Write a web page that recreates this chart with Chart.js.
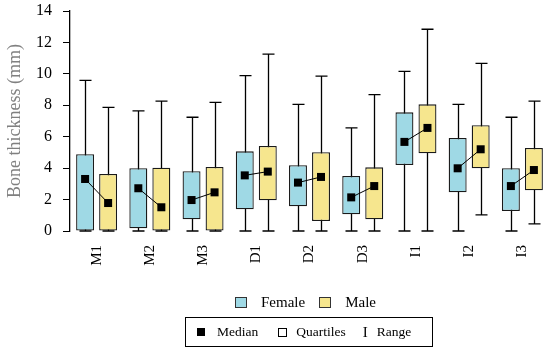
<!DOCTYPE html>
<html>
<head>
<meta charset="utf-8">
<script src="https://cdn.jsdelivr.net/npm/chart.js@4"></script>
<style>
  html, body { margin: 0; padding: 0; background: #fff; }
  #wrap { position: relative; width: 550px; height: 351px; }
  #legend {
    position: absolute; left: 235px; top: 292px; height: 20px;
    font: 15px "Liberation Serif", serif; color: #000;
    display: flex; align-items: center; white-space: nowrap;
  }
  #legend i { display: inline-block; width: 10px; height: 9px; border: 1px solid #333; margin-right: 14px; }
  #key {
    position: absolute; left: 185px; top: 317px; width: 235px; height: 28px;
    padding-left: 11px;
    border: 1px solid #000; box-sizing: content-box;
    font: 13.5px "Liberation Serif", serif; color: #000;
    display: flex; align-items: center; justify-content: flex-start;
    white-space: nowrap;
  }
  #key span { display: inline-flex; align-items: center; }
  .sq { display: inline-block; width: 8px; height: 8px; margin-right: 12px; }
  .med { background: #000; }
  .qrt { border: 1px solid #000; width: 7px; height: 7px; margin-right: 9px; }
  .rng { margin-right: 9px; font-size: 15px; font-weight: normal; }
</style>
</head>
<body>
<div id="wrap">
  <canvas id="chart" width="550" height="351"></canvas>
  <div id="legend"></div>
  <div id="key">
    <span><i class="sq med"></i>Median</span>
    <span style="margin-left:20px"><i class="sq qrt"></i>Quartiles</span>
    <span style="margin-left:17px"><b class="rng">I</b>Range</span>
  </div>
</div>
<script>
  var sites = ["M1", "M2", "M3", "D1", "D2", "D3", "I1", "I2", "I3"];

  // female
  var femaleMin = [0, 0, 0, 0, 0, 0, 0, 0, 0];
  var femaleQ1 = [0, 0.17, 0.74, 1.38, 1.57, 1.06, 4.2, 2.46, 1.27];
  var femaleMedian = [3.31, 2.72, 1.97, 3.54, 3.08, 2.14, 5.67, 3.99, 2.86];
  var femaleQ3 = [4.88, 3.99, 3.8, 5.07, 4.18, 3.5, 7.55, 5.92, 3.99];
  var femaleMax = [9.59, 7.64, 7.24, 9.89, 8.06, 6.56, 10.16, 8.06, 7.24];

  // male
  var maleMin = [0, 0, 0, 0, 0, 0, 0, 1.02, 0.45];
  var maleQ1 = [0, 0, 0, 1.95, 0.64, 0.74, 4.94, 3.99, 2.59];
  var maleMedian = [1.78, 1.51, 2.46, 3.78, 3.44, 2.86, 6.56, 5.2, 3.88];
  var maleQ3 = [3.63, 4.03, 4.07, 5.41, 5.01, 4.05, 8.06, 6.73, 5.28];
  var maleMax = [7.87, 8.27, 8.19, 11.25, 9.85, 8.68, 12.84, 10.67, 8.27];

  var yTicks = [0, 2, 4, 6, 8, 10, 12, 14];

  var serif = '"Liberation Serif", "Times New Roman", serif';
  var femaleColor = "#9fd9e5";
  var maleColor = "#f6e68e";

  function pairs(lo, hi) {
    return lo.map(function (v, i) { return [v, hi[i]]; });
  }

  var groups = [
    { min: femaleMin, med: femaleMedian, max: femaleMax },
    { min: maleMin, med: maleMedian, max: maleMax },
  ];

  // whiskers under the boxes, medians on top
  var boxPlotParts = {
    id: "boxPlotParts",
    beforeDatasetsDraw: function (chart) {
      var ctx = chart.ctx;
      var y = chart.scales.y;
      ctx.save();
      ctx.strokeStyle = "#000";
      ctx.lineWidth = 1.3;
      groups.forEach(function (g, di) {
        var bars = chart.getDatasetMeta(di).data;
        bars.forEach(function (bar, i) {
          var x = Math.round(bar.x) + 0.5;
          var top = y.getPixelForValue(g.max[i]);
          var bot = y.getPixelForValue(g.min[i]);
          ctx.beginPath();
          ctx.moveTo(x, top);
          ctx.lineTo(x, bot);
          ctx.moveTo(x - 6, top);
          ctx.lineTo(x + 6, top);
          ctx.moveTo(x - 6, bot);
          ctx.lineTo(x + 6, bot);
          ctx.stroke();
        });
      });
      ctx.restore();
    },
    afterDatasetsDraw: function (chart) {
      var ctx = chart.ctx;
      var y = chart.scales.y;
      var f = chart.getDatasetMeta(0).data;
      var m = chart.getDatasetMeta(1).data;
      ctx.save();
      ctx.strokeStyle = "#000";
      ctx.fillStyle = "#000";
      ctx.lineWidth = 1;
      for (var i = 0; i < sites.length; i++) {
        var x1 = f[i].x, y1 = y.getPixelForValue(femaleMedian[i]);
        var x2 = m[i].x, y2 = y.getPixelForValue(maleMedian[i]);
        ctx.beginPath();
        ctx.moveTo(x1, y1);
        ctx.lineTo(x2, y2);
        ctx.stroke();
        ctx.fillRect(x1 - 4, y1 - 4, 8, 8);
        ctx.fillRect(x2 - 4, y2 - 4, 8, 8);
      }
      ctx.restore();
    },
  };

  function noEdgePadding(scale) {
    scale.paddingTop = 0;
    scale.paddingBottom = 0;
    scale.paddingLeft = 0;
    scale.paddingRight = 0;
  }

  var chart = new Chart(document.getElementById("chart"), {
    type: "bar",
    data: {
      labels: sites,
      datasets: [
        {
          label: "Female",
          data: pairs(femaleQ1, femaleQ3),
          backgroundColor: femaleColor,
          borderColor: "#1a1a1a",
          borderWidth: 1.3,
          borderSkipped: false,
        },
        {
          label: "Male",
          data: pairs(maleQ1, maleQ3),
          backgroundColor: maleColor,
          borderColor: "#1a1a1a",
          borderWidth: 1.3,
          borderSkipped: false,
        },
      ],
    },
    options: {
      responsive: false,
      animation: false,
      categoryPercentage: 0.865,
      barPercentage: 0.78,
      layout: { padding: { top: 11, right: 1, left: 4, bottom: 74 } },
      plugins: {
        tooltip: { enabled: false },
        legend: { display: false },
      },
      scales: {
        x: {
          grid: { display: false },
          border: { display: false },
          ticks: {
            color: "#000",
            font: { family: serif, size: 15 },
            minRotation: 90,
            maxRotation: 90,
            padding: 6,
          },
          afterFit: function (scale) {
            scale.height = 46;
            noEdgePadding(scale);
          },
        },
        y: {
          min: 0,
          max: 14,
          afterBuildTicks: function (scale) {
            scale.ticks = yTicks.map(function (v) { return { value: v }; });
          },
          grid: {
            display: true,
            drawOnChartArea: false,
            drawTicks: true,
            tickLength: 7,
            color: "#000",
          },
          border: { display: true, color: "#000", width: 1.3 },
          ticks: {
            color: "#000",
            font: { family: serif, size: 16 },
            padding: 11,
          },
          title: {
            display: true,
            text: "Bone thickness (mm)",
            color: "#808080",
            font: { family: serif, size: 18 },
            padding: { top: 0, bottom: 2 },
          },
          afterFit: function (scale) {
            scale.width = 66;
            noEdgePadding(scale);
          },
        },
      },
    },
    plugins: [boxPlotParts],
  });

  // series legend built from the chart's datasets
  var legendEl = document.getElementById("legend");
  chart.data.datasets.forEach(function (ds, i) {
    var item = document.createElement("span");
    item.style.display = "inline-flex";
    item.style.alignItems = "center";
    if (i > 0) item.style.marginLeft = "14px";
    var sw = document.createElement("i");
    sw.style.background = ds.backgroundColor;
    item.appendChild(sw);
    item.appendChild(document.createTextNode(ds.label));
    legendEl.appendChild(item);
  });
</script>
</body>
</html>
